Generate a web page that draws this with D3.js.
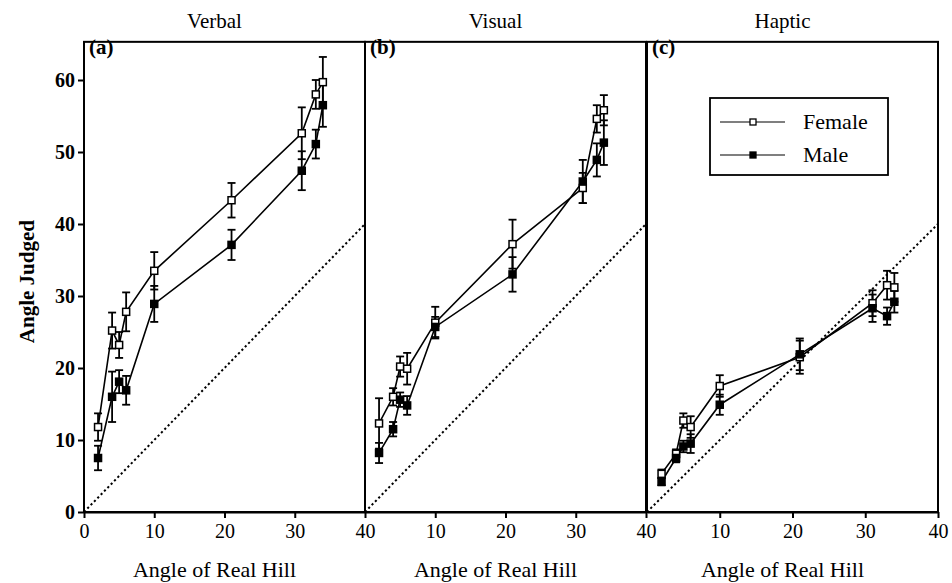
<!DOCTYPE html>
<html><head><meta charset="utf-8">
<script src="https://cdn.jsdelivr.net/npm/d3@7/dist/d3.min.js"></script>
<style>body{margin:0;background:#fff}svg{display:block}</style>
</head><body>
<svg id="chart" width="952" height="583"></svg>
<script>
const angles = [2, 4, 5, 6, 10, 21, 31, 33, 34];
const panelTitles = ["Verbal", "Visual", "Haptic"];
const panelLetters = ["(a)", "(b)", "(c)"];
const seriesNames = ["Female", "Male"];

const verbalFemale    = [11.8, 25.2, 23.2, 27.8, 33.5, 43.3, 52.6, 58.0, 59.7];
const verbalFemaleErr = [1.9, 2.5, 1.8, 2.7, 2.6, 2.4, 3.6, 2.0, 3.5];
const verbalMale      = [7.5, 16.0, 18.1, 16.9, 28.9, 37.1, 47.4, 51.1, 56.5];
const verbalMaleErr   = [1.7, 3.5, 1.6, 2.0, 2.5, 2.1, 2.7, 2.0, 3.0];

const visualFemale    = [12.3, 16.0, 20.2, 19.9, 26.3, 37.2, 45.0, 54.6, 55.8];
const visualFemaleErr = [3.5, 1.2, 1.4, 2.2, 2.2, 3.4, 2.1, 1.9, 2.1];
const visualMale      = [8.2, 11.5, 15.6, 14.8, 25.7, 33.0, 45.9, 48.9, 51.3];
const visualMaleErr   = [1.4, 1.0, 1.0, 1.3, 1.4, 2.4, 3.0, 2.3, 3.1];

const hapticFemale    = [5.3, 8.1, 12.7, 11.8, 17.5, 21.5, 29.0, 31.5, 31.2];
const hapticFemaleErr = [0.6, 0.6, 1.0, 1.5, 1.5, 2.3, 1.8, 2.0, 2.0];
const hapticMale      = [4.2, 7.5, 9.1, 9.5, 14.9, 21.9, 28.3, 27.2, 29.2];
const hapticMaleErr   = [0.5, 0.6, 0.8, 1.3, 1.4, 2.2, 1.9, 1.2, 1.5];

const yTicks = [0, 10, 20, 30, 40, 50, 60];
const xTicks = [0, 10, 20, 30, 40];
const identity = [0, 40];

const panels = [
  {title: panelTitles[0], letter: panelLetters[0], f: verbalFemale, fe: verbalFemaleErr, m: verbalMale, me: verbalMaleErr},
  {title: panelTitles[1], letter: panelLetters[1], f: visualFemale, fe: visualFemaleErr, m: visualMale, me: visualMaleErr},
  {title: panelTitles[2], letter: panelLetters[2], f: hapticFemale, fe: hapticFemaleErr, m: hapticMale, me: hapticMaleErr}
];

const FONT = '"Liberation Serif", "Times New Roman", serif';
const svg = d3.select("#chart");
const xRanges = [[84, 365], [365, 646], [647, 938]];
const y = d3.scaleLinear().domain([0, 60]).range([512, 80]);
const yTop = y(65.3);

panels.forEach((p, i) => {
  const x = d3.scaleLinear().domain([0, 40]).range(xRanges[i]);
  const g = svg.append("g");

  g.append("rect").attr("x", x(0)).attr("y", yTop)
    .attr("width", x(40) - x(0)).attr("height", y(0) - yTop)
    .attr("fill", "none").attr("stroke", "#000").attr("stroke-width", 2);

  const xa = g.append("g").attr("transform", `translate(0,${y(0)})`)
    .call(d3.axisBottom(x).tickValues(i === 0 ? xTicks : xTicks.slice(1)).tickSize(6).tickSizeOuter(0).tickPadding(6));
  xa.select(".domain").attr("stroke-width", 2);
  xa.selectAll(".tick line").attr("stroke-width", 2);
  xa.selectAll("text").style("font-family", FONT).attr("font-size", 20).attr("fill", "#000");

  if (i === 0) {
    const ya = g.append("g").attr("transform", `translate(${x(0)},0)`)
      .call(d3.axisLeft(y).tickValues(yTicks).tickSize(6).tickSizeOuter(0).tickPadding(3));
    ya.select(".domain").remove();
    ya.selectAll(".tick line").attr("stroke-width", 2);
    ya.selectAll("text").style("font-family", FONT).attr("font-size", 20).attr("font-weight", "bold").attr("fill", "#000");
  }

  g.append("line").attr("x1", x(identity[0])).attr("y1", y(identity[0]))
    .attr("x2", x(identity[1])).attr("y2", y(identity[1]))
    .attr("stroke", "#000").attr("stroke-width", 2).attr("stroke-dasharray", "2.2,2.6");

  g.append("text").attr("x", (x(0) + x(40)) / 2 - 10).attr("y", 28)
    .attr("text-anchor", "middle").style("font-family", FONT).attr("font-size", 21).text(p.title);
  g.append("text").attr("x", (x(0) + x(40)) / 2 - 10).attr("y", 577)
    .attr("text-anchor", "middle").style("font-family", FONT).attr("font-size", 22).text("Angle of Real Hill");
  g.append("text").attr("x", x(0) + 5).attr("y", 54)
    .style("font-family", FONT).attr("font-size", 21).attr("font-weight", "bold").text(p.letter);

  const series = [
    {vals: p.f, errs: p.fe, fill: "#fff"},
    {vals: p.m, errs: p.me, fill: "#000"}
  ];
  const line = d3.line().x((d, j) => x(angles[j])).y(d => y(d));
  series.forEach(s => {
    const eg = g.append("g").attr("stroke", "#000").attr("stroke-width", 1.8);
    s.vals.forEach((v, j) => {
      const cx = x(angles[j]);
      eg.append("line").attr("x1", cx).attr("x2", cx).attr("y1", y(v - s.errs[j])).attr("y2", y(v + s.errs[j]));
      eg.append("line").attr("x1", cx - 4).attr("x2", cx + 4).attr("y1", y(v + s.errs[j])).attr("y2", y(v + s.errs[j]));
      eg.append("line").attr("x1", cx - 4).attr("x2", cx + 4).attr("y1", y(v - s.errs[j])).attr("y2", y(v - s.errs[j]));
    });
  });
  series.forEach(s => {
    g.append("path").datum(s.vals).attr("d", line).attr("fill", "none")
      .attr("stroke", "#000").attr("stroke-width", 1.6);
  });
  series.forEach(s => {
    g.selectAll(null).data(s.vals).enter().append("rect")
      .attr("x", (d, j) => x(angles[j]) - 3.5).attr("y", d => y(d) - 3.5)
      .attr("width", 7).attr("height", 7)
      .attr("fill", s.fill).attr("stroke", "#000").attr("stroke-width", 1.5);
  });

  if (i === 2) {
    const lg = g.append("g");
    lg.append("rect").attr("x", 710).attr("y", 98).attr("width", 178).attr("height", 77)
      .attr("fill", "#fff").attr("stroke", "#000").attr("stroke-width", 1.8);
    seriesNames.forEach((n, k) => {
      const ly = 122 + k * 33;
      lg.append("line").attr("x1", 720).attr("x2", 785).attr("y1", ly).attr("y2", ly)
        .attr("stroke", "#000").attr("stroke-width", 1.2);
      lg.append("rect").attr("x", 750).attr("y", ly - 3).attr("width", 6).attr("height", 6)
        .attr("fill", k === 0 ? "#fff" : "#000").attr("stroke", "#000").attr("stroke-width", 1.3);
      lg.append("text").attr("x", 803).attr("y", ly + 7).style("font-family", FONT)
        .attr("font-size", 22).text(n);
    });
  }
});

svg.append("text").attr("transform", `translate(34,${y(32)}) rotate(-90)`)
  .attr("text-anchor", "middle").style("font-family", FONT).attr("font-size", 21)
  .attr("font-weight", "bold").text("Angle Judged");
</script>
</body></html>
